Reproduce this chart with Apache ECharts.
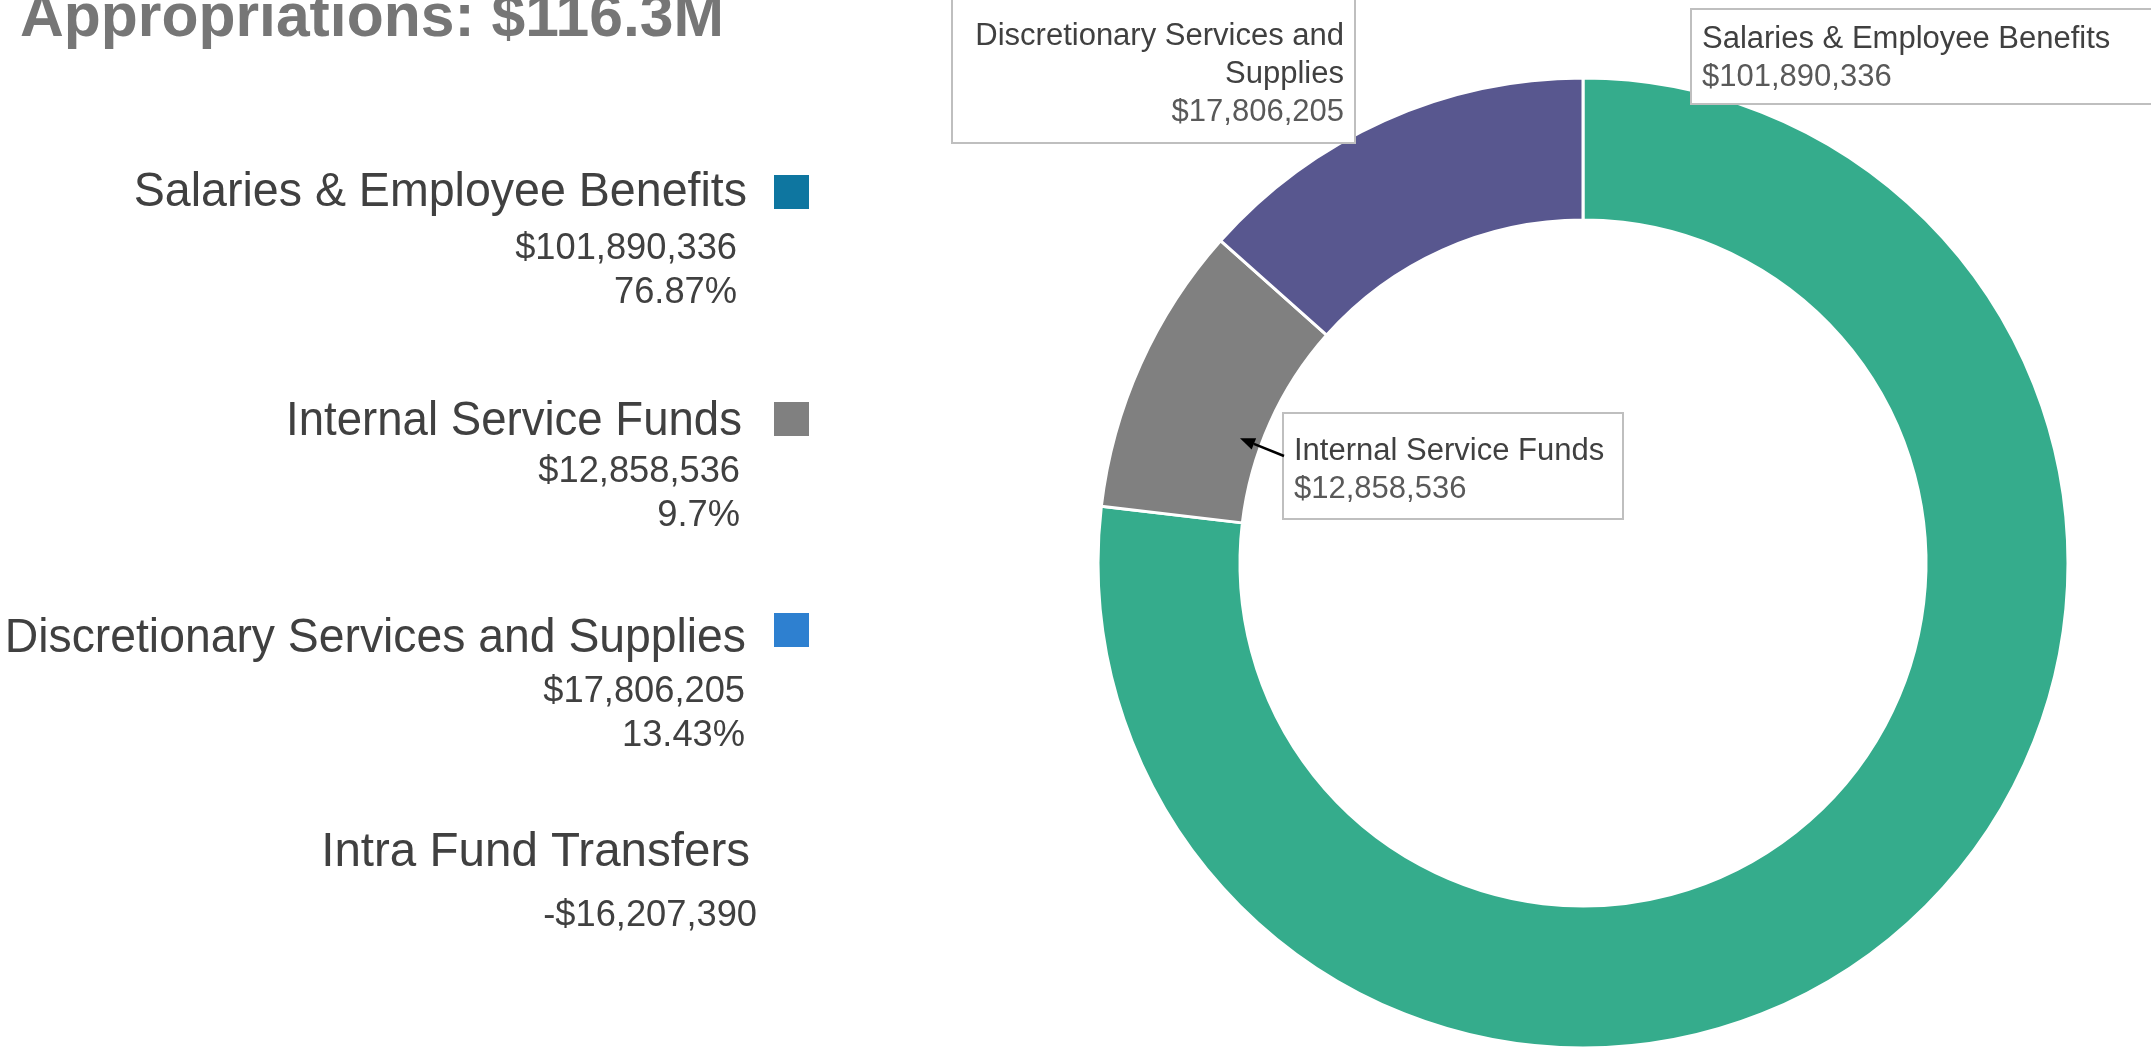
<!DOCTYPE html>
<html>
<head>
<meta charset="utf-8">
<script src="https://cdn.jsdelivr.net/npm/echarts@6/dist/echarts.min.js"></script>
<style>
  html, body { margin: 0; padding: 0; background: #fff; }
  #main { width: 2151px; height: 1052px; }
</style>
</head>
<body>
<div id="main"></div>
<script>
// data
var categories = ['Salaries & Employee Benefits', 'Internal Service Funds', 'Discretionary Services and Supplies'];
var amounts = [101890336, 12858536, 17806205];
var transferName = 'Intra Fund Transfers';
var transferAmount = -16207390;

var sliceColors = ['#35AC8C', '#808080', '#58578F'];
var legendColors = ['#0E76A0', '#808080', '#2E80D0'];

var FONT = '"Liberation Sans", Arial, sans-serif';
var total = amounts.reduce(function (a, b) { return a + b; }, 0);

function fmtMoney(v) {
  return (v < 0 ? '-' : '') + '$' + Math.abs(v).toLocaleString('en-US');
}
function fmtPct(v) {
  return parseFloat((v / total * 100).toFixed(2)) + '%';
}
function wrapName(name) {
  if (name.length <= 30) return [name];
  var k = name.lastIndexOf(' ');
  return [name.slice(0, k), name.slice(k + 1)];
}

var ctx = document.createElement('canvas').getContext('2d');
function measure(text, font) {
  ctx.font = font;
  return ctx.measureText(text).width;
}

// pie geometry
var pieCenter = [1583, 563];
var pieRadius = [343, 485];

// label boxes on the chart
var labelBoxes = [
  { x: 1692, y: 10, align: 'left', vAlign: 'top', width: 470, padding: [10, 10, 7, 10], textAlign: 'left' },
  { x: 1284, y: 414, align: 'left', vAlign: 'top', width: 316, padding: [18, 12, 10, 10], textAlign: 'left' },
  { x: 1354, y: 142, align: 'right', vAlign: 'bottom', width: 381, padding: [20, 10, 11, 10], textAlign: 'right' }
];

var pieData = categories.map(function (name, i) {
  var b = labelBoxes[i];
  return {
    name: name,
    value: amounts[i],
    itemStyle: { color: sliceColors[i] },
    label: {
      width: b.width,
      padding: b.padding,
      rich: {
        n: { fontFamily: FONT, fontSize: 31, lineHeight: 38, color: '#404040', align: b.textAlign },
        v: { fontFamily: FONT, fontSize: 31, lineHeight: 38, color: '#595959', align: b.textAlign }
      }
    }
  };
});

// left side legend
var legendRows = [
  { labelY: 192, v1Y: 249, v2Y: 293, sqY: 192, right: 747, vRight: 737, scale: 0.95 },
  { labelY: 421, v1Y: 472, v2Y: 516, sqY: 419, right: 742, vRight: 740, scale: 0.93 },
  { labelY: 638, v1Y: 692, v2Y: 736, sqY: 630, right: 746, vRight: 745, scale: 0.945 }
];
var transferRow = { labelY: 852, vY: 916, right: 750, vRight: 757, scale: 0.97 };

var graphics = [];
function addText(text, x, y, size, weight, color, scaleX) {
  graphics.push({
    type: 'text', x: x, y: y, z: 100, scaleX: scaleX || 1, originX: 0, originY: 0,
    style: {
      text: text, fill: color, align: 'right', verticalAlign: 'middle',
      font: weight + ' ' + size + 'px ' + FONT
    }
  });
}

categories.forEach(function (name, i) {
  var r = legendRows[i];
  addText(name, r.right, r.labelY, 49, 'normal', '#404040', r.scale);
  addText(fmtMoney(amounts[i]), r.vRight, r.v1Y, 37, 'normal', '#404040', 0.98);
  addText(fmtPct(amounts[i]), r.vRight, r.v2Y, 37, 'normal', '#404040', 0.98);
  graphics.push({
    type: 'rect', z: 100,
    shape: { x: 774, y: r.sqY - 17, width: 35, height: 34 },
    style: { fill: legendColors[i] }
  });
});
addText(transferName, transferRow.right, transferRow.labelY, 49, 'normal', '#404040', transferRow.scale);
addText(fmtMoney(transferAmount), transferRow.vRight, transferRow.vY, 37, 'normal', '#404040', 0.98);

// title, partly cut off at the left / top like the source
var net = '$' + ((total + transferAmount) / 1e6).toFixed(1) + 'M';
var titleFont = 'bold 62px ' + FONT;
var titleScale = 704 / measure('Appropriations: ' + net, titleFont);
addText('Total Appropriations: ' + net, 724, 19, 62, 'bold', '#767676', titleScale);

// arrow pointing at the Internal Service Funds slice
var startDeg = 360 * amounts[0] / total;
var sweepDeg = 360 * amounts[1] / total;
var tipDeg = (startDeg + sweepDeg * 0.38) * Math.PI / 180;
var tipR = pieRadius[0] + 22;
var tip = [pieCenter[0] + tipR * Math.sin(tipDeg), pieCenter[1] - tipR * Math.cos(tipDeg)];
var tail = [labelBoxes[1].x, 456];
var dx = tip[0] - tail[0], dy = tip[1] - tail[1];
var len = Math.sqrt(dx * dx + dy * dy);
var ux = dx / len, uy = dy / len;
var headL = 15, headW = 6;
var base = [tip[0] - ux * headL, tip[1] - uy * headL];
graphics.push({
  type: 'line', z: 100,
  shape: { x1: tail[0], y1: tail[1], x2: base[0], y2: base[1] },
  style: { stroke: '#000', lineWidth: 2.5 }
});
graphics.push({
  type: 'polygon', z: 100,
  shape: { points: [tip, [base[0] - uy * headW, base[1] + ux * headW], [base[0] + uy * headW, base[1] - ux * headW]] },
  style: { fill: '#000' }
});

var chart = echarts.init(document.getElementById('main'));
var option = {
  backgroundColor: '#fff',
  animation: false,
  graphic: graphics,
  series: [
    {
      type: 'pie',
      z: 2,
      center: pieCenter,
      radius: pieRadius,
      startAngle: 90,
      clockwise: true,
      avoidLabelOverlap: false,
      itemStyle: { borderColor: '#fff', borderWidth: 3 },
      emphasis: { disabled: true },
      label: {
        show: true,
        backgroundColor: '#fff',
        borderColor: '#BFBFBF',
        borderWidth: 2,
        formatter: function (p) {
          var lines = wrapName(p.name).map(function (l) { return '{n|' + l + '}'; });
          return lines.join('\n') + '\n{v|' + fmtMoney(p.value) + '}';
        }
      },
      labelLine: { show: false },
      labelLayout: function (p) {
        var b = labelBoxes[p.dataIndex];
        return { x: b.x, y: b.y, align: b.align, verticalAlign: b.vAlign };
      },
      data: pieData
    }
  ]
};
chart.setOption(option);
</script>
</body>
</html>
